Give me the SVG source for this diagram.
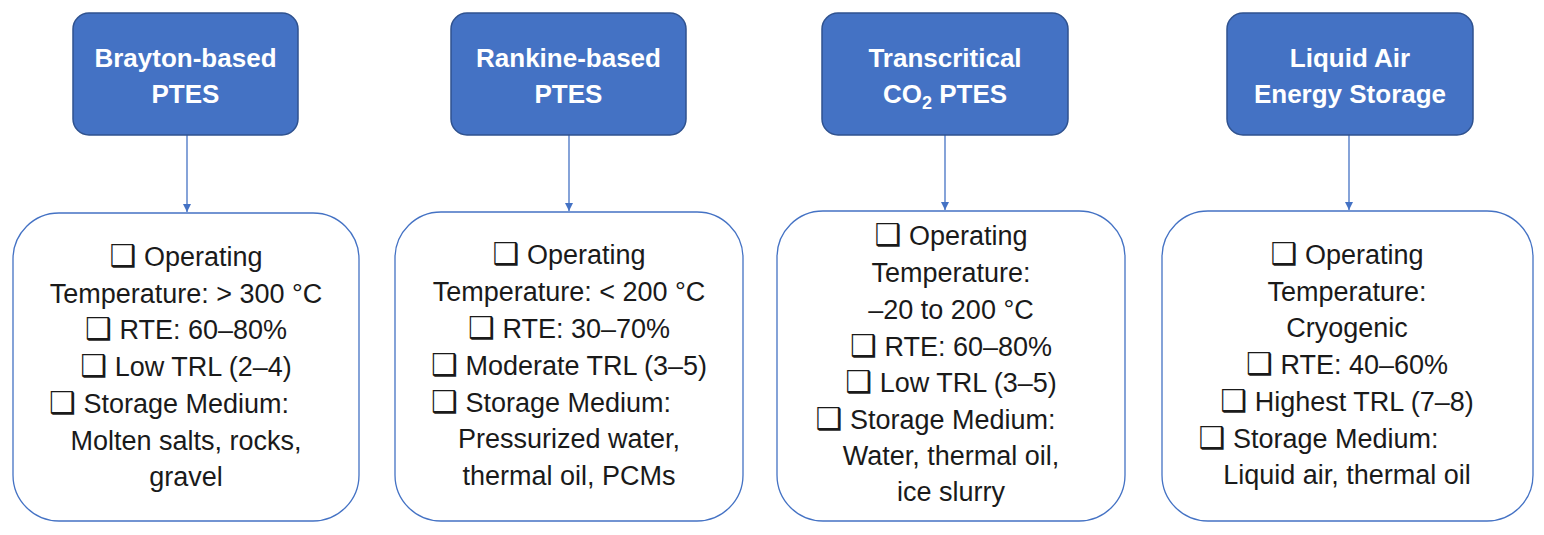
<svg xmlns="http://www.w3.org/2000/svg" width="1544" height="535" viewBox="0 0 1544 535">
<style>
.hdr{fill:#4472C4;stroke:#2F528F;stroke-width:1.5}
.card{fill:#ffffff;stroke:#4472C4;stroke-width:1.3}
.ht{font-family:"Liberation Sans",Arial,sans-serif;font-weight:bold;font-size:26px;fill:#ffffff;text-anchor:middle}
.bt{font-family:"Liberation Sans",Arial,sans-serif;font-size:27px;fill:#1a1a1a;text-anchor:middle}
.cb{font-family:"DejaVu Sans",sans-serif;font-size:30px;font-weight:bold}
.sub{font-size:18px}
.conn{stroke:#4472C4;stroke-width:1.3;fill:none}
</style>
<defs>
<marker id="arr" viewBox="0 0 10 10" refX="10" refY="5" markerWidth="8" markerHeight="8" markerUnits="userSpaceOnUse" orient="auto">
<path d="M0,0 L10,5 L0,10 z" fill="#4472C4"/>
</marker>
</defs>
<rect width="1544" height="535" fill="#ffffff"/>

<g id="connectors">
<line class="conn" x1="187" y1="135" x2="187" y2="212" marker-end="url(#arr)"/>
<line class="conn" x1="569" y1="135" x2="569" y2="211" marker-end="url(#arr)"/>
<line class="conn" x1="945" y1="135" x2="945" y2="210" marker-end="url(#arr)"/>
<line class="conn" x1="1349" y1="135" x2="1349" y2="210" marker-end="url(#arr)"/>
</g>

<g id="brayton-header">
<rect class="hdr" x="73" y="13" width="225" height="122" rx="16"/>
<text class="ht" x="185.5" y="66.5">Brayton-based</text>
<text class="ht" x="185.5" y="103">PTES</text>
</g>
<g id="rankine-header">
<rect class="hdr" x="451" y="13" width="235" height="122" rx="16"/>
<text class="ht" x="568.5" y="66.5">Rankine-based</text>
<text class="ht" x="568.5" y="103">PTES</text>
</g>
<g id="tco2-header">
<rect class="hdr" x="822" y="13" width="246" height="122" rx="16"/>
<text class="ht" x="945" y="66.5">Transcritical</text>
<text class="ht" x="945" y="103">CO<tspan class="sub" dy="6">2</tspan><tspan dy="-6"> PTES</tspan></text>
</g>
<g id="laes-header">
<rect class="hdr" x="1227" y="13" width="246" height="122" rx="16"/>
<text class="ht" x="1350" y="66.5">Liquid Air</text>
<text class="ht" x="1350" y="103">Energy Storage</text>
</g>

<g id="brayton-details">
<rect class="card" x="13" y="213" width="346" height="308" rx="46"/>
<text class="bt" x="186" y="266"><tspan class="cb">❑</tspan> Operating</text>
<text class="bt" x="186" y="302.7">Temperature: &gt; 300 °C</text>
<text class="bt" x="186" y="339.4"><tspan class="cb">❑</tspan> RTE: 60–80%</text>
<text class="bt" x="186" y="376"><tspan class="cb">❑</tspan> Low TRL (2–4)</text>
<text class="bt" x="169" y="412.8"><tspan class="cb">❑</tspan> Storage Medium:</text>
<text class="bt" x="186" y="449.5">Molten salts, rocks,</text>
<text class="bt" x="186" y="486.2">gravel</text>
</g>

<g id="rankine-details">
<rect class="card" x="395" y="212" width="348" height="309" rx="46"/>
<text class="bt" x="569" y="264"><tspan class="cb">❑</tspan> Operating</text>
<text class="bt" x="569" y="301">Temperature: &lt; 200 °C</text>
<text class="bt" x="569" y="337.5"><tspan class="cb">❑</tspan> RTE: 30–70%</text>
<text class="bt" x="569" y="374.5"><tspan class="cb">❑</tspan> Moderate TRL (3–5)</text>
<text class="bt" x="551" y="411.5"><tspan class="cb">❑</tspan> Storage Medium:</text>
<text class="bt" x="569" y="448">Pressurized water,</text>
<text class="bt" x="569" y="484.5">thermal oil, PCMs</text>
</g>

<g id="tco2-details">
<rect class="card" x="777" y="211" width="348" height="310" rx="46"/>
<text class="bt" x="951" y="245"><tspan class="cb">❑</tspan> Operating</text>
<text class="bt" x="951" y="282">Temperature:</text>
<text class="bt" x="951" y="319">–20 to 200 °C</text>
<text class="bt" x="951" y="355.5"><tspan class="cb">❑</tspan> RTE: 60–80%</text>
<text class="bt" x="951" y="392"><tspan class="cb">❑</tspan> Low TRL (3–5)</text>
<text class="bt" x="935.5" y="428.5"><tspan class="cb">❑</tspan> Storage Medium:</text>
<text class="bt" x="951" y="465">Water, thermal oil,</text>
<text class="bt" x="951" y="501">ice slurry</text>
</g>

<g id="laes-details">
<rect class="card" x="1162" y="211" width="371" height="310" rx="46"/>
<text class="bt" x="1347" y="264"><tspan class="cb">❑</tspan> Operating</text>
<text class="bt" x="1347" y="300.5">Temperature:</text>
<text class="bt" x="1347" y="337">Cryogenic</text>
<text class="bt" x="1347" y="374"><tspan class="cb">❑</tspan> RTE: 40–60%</text>
<text class="bt" x="1347" y="410.5"><tspan class="cb">❑</tspan> Highest TRL (7–8)</text>
<text class="bt" x="1318.5" y="447.5"><tspan class="cb">❑</tspan> Storage Medium:</text>
<text class="bt" x="1347" y="484">Liquid air, thermal oil</text>
</g>
</svg>
